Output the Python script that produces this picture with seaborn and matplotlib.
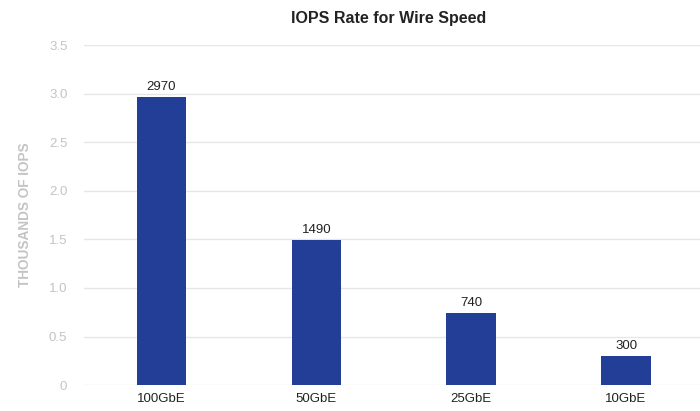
import pandas as pd
import matplotlib
matplotlib.use('Agg')
import matplotlib.pyplot as plt
import seaborn as sns

speeds = ['100GbE', '50GbE', '25GbE', '10GbE']
iops_thousands = [2.97, 1.49, 0.74, 0.30]
bar_labels = ['2970', '1490', '740', '300']
y_ticks = [0, 0.5, 1.0, 1.5, 2.0, 2.5, 3.0, 3.5]
y_tick_labels = ['0', '0.5', '1.0', '1.5', '2.0', '2.5', '3.0', '3.5']

df = pd.DataFrame({'speed': speeds, 'iops': iops_thousands})

sns.set_style('white')
plt.rcParams['font.family'] = ['Liberation Sans', 'DejaVu Sans']

fig = plt.figure(figsize=(7, 4.11), dpi=100)
ax = fig.add_axes([0.12, 0.063, 0.885, 0.8275])

sns.barplot(x='speed', y='iops', data=df, color='#233e96', width=0.32,
            saturation=1, linewidth=0, ax=ax, zorder=3)

ax.set_ylim(0, 3.5)
ax.set_xlim(-0.5, 3.5)
ax.set_yticks(y_ticks)
ax.set_yticklabels(y_tick_labels)
ax.yaxis.grid(True, color='#e6e6e6', linewidth=1, zorder=0)
ax.tick_params(axis='y', colors='#c4c4c4', labelsize=9.5, length=0, pad=12)
ax.tick_params(axis='x', colors='#222222', labelsize=9.5, length=0, pad=6)
for s in ax.spines.values():
    s.set_visible(False)

for i, lab in enumerate(bar_labels):
    ax.text(i, iops_thousands[i] + 0.04, lab, ha='center', va='bottom',
            fontsize=9.5, color='#222222')

ax.set_xlabel('')
ax.set_ylabel('THOUSANDS OF IOPS', color='#c4c4c4', fontsize=9.8,
              fontweight='bold', labelpad=12)
fig.text(0.555, 0.955, 'IOPS Rate for Wire Speed', ha='center', va='center',
         fontsize=11.5, fontweight='bold', color='#222222')

fig.savefig('out.png', dpi=100)
